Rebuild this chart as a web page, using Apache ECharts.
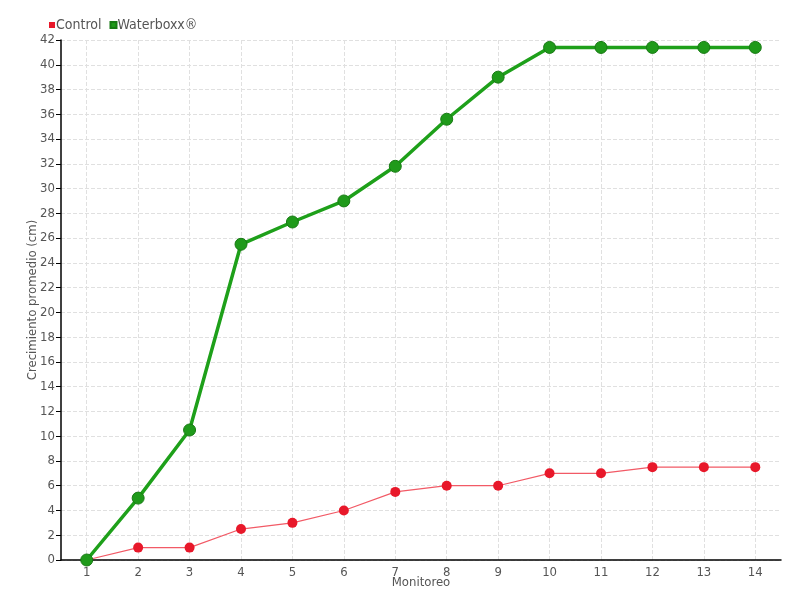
<!DOCTYPE html>
<html><head><meta charset="utf-8">
<script src="https://cdn.jsdelivr.net/npm/echarts@6/dist/echarts.min.js"></script>
<style>html,body{margin:0;padding:0;background:#fff}#c{width:800px;height:600px}</style>
</head><body><div id="c"></div>
<script>
const categories = ['1','2','3','4','5','6','7','8','9','10','11','12','13','14'];
const control = [0,1,1,2.5,3,4,5.5,6,6,7,7,7.5,7.5,7.5];
const waterboxx = [0,5,10.5,25.5,27.3,29,31.8,35.6,39,41.4,41.4,41.4,41.4,41.4];
const FONT = '"DejaVu Sans Condensed", sans-serif';
const chart = echarts.init(document.getElementById('c'));
chart.setOption({
  animation:false,
  textStyle:{fontFamily:FONT},
  legend:{left:44,top:13,itemWidth:6,itemHeight:6,itemGap:8,icon:'rect',
    textStyle:{fontFamily:FONT,fontSize:14,color:'#555',padding:[0,0,0,-4]},
    data:['Control','Waterboxx®']},
  grid:{left:61,right:19,top:40,bottom:40,outerBoundsMode:'none'},
  xAxis:{type:'category',data:categories,boundaryGap:true,name:'Monitoreo',nameLocation:'middle',nameGap:16,nameMoveOverlap:false,
    nameTextStyle:{fontFamily:FONT,fontSize:13,color:'#555'},
    axisLine:{lineStyle:{color:'#000',width:1.5}},
    axisTick:{alignWithLabel:true,length:4,lineStyle:{color:'#000'}},
    axisLabel:{fontFamily:FONT,fontSize:13,color:'#555',margin:6},
    splitLine:{show:true,alignWithLabel:true,lineStyle:{type:'dashed',color:'#e0e0e0'}}},
  yAxis:{type:'value',min:0,max:42,interval:2,name:'Crecimiento promedio (cm)',nameLocation:'middle',nameGap:22,nameMoveOverlap:false,
    nameTextStyle:{fontFamily:FONT,fontSize:13,color:'#555'},
    axisLine:{show:true,lineStyle:{color:'#000',width:1.5}},
    axisTick:{show:true,length:5,lineStyle:{color:'#000'}},
    axisLabel:{fontFamily:FONT,fontSize:13,color:'#555',margin:6},
    splitLine:{show:true,lineStyle:{type:'dashed',color:'#e0e0e0'}}},
  series:[
    {name:'Control',type:'line',data:control,symbol:'circle',symbolSize:10,
      itemStyle:{color:'#e8182a'},lineStyle:{color:'#f25a66',width:1.2}},
    {name:'Waterboxx®',type:'line',data:waterboxx,symbol:'circle',symbolSize:12,
      itemStyle:{color:'#1f9a1a',borderColor:'#187a14',borderWidth:1},lineStyle:{color:'#1ea01a',width:3.5}}
  ]
});
</script></body></html>
